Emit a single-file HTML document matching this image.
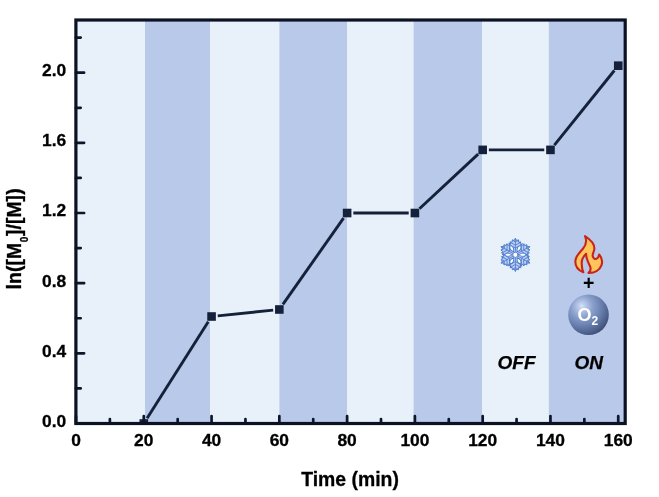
<!DOCTYPE html>
<html><head><meta charset="utf-8"><title>Kinetics plot</title>
<style>
html,body{margin:0;padding:0;background:#fff;}
body{width:659px;height:497px;overflow:hidden;font-family:"Liberation Sans",sans-serif;}
svg{display:block;filter:blur(0.4px);}
text{font-family:"Liberation Sans",sans-serif;font-weight:bold;fill:#000;}
.tk{font-size:17.4px;stroke:#000;stroke-width:0.3px;}
.ax{font-size:19.4px;stroke:#000;stroke-width:0.3px;}
.lab{font-size:19px;font-style:italic;stroke:#000;stroke-width:0.25px;}
</style></head><body>
<svg width="659" height="497" viewBox="0 0 659 497">
<defs>
<radialGradient id="sph" cx="0.36" cy="0.32" r="0.75" fx="0.33" fy="0.28">
<stop offset="0" stop-color="#D6E2F9"/>
<stop offset="0.14" stop-color="#B4C5E8"/>
<stop offset="0.36" stop-color="#8A9FCB"/>
<stop offset="0.62" stop-color="#6A81B0"/>
<stop offset="0.85" stop-color="#4E618C"/>
<stop offset="1" stop-color="#39486C"/>
</radialGradient>
<clipPath id="plot"><rect x="75.9" y="20" width="549.3" height="403.5"/></clipPath>
</defs>
<rect width="659" height="497" fill="#fff"/>

<rect x="77" y="20" width="68" height="403.5" fill="#E8F1FA"/>
<rect x="145" y="20" width="65.2" height="403.5" fill="#B9C9E9"/>
<rect x="210.2" y="20" width="69.1" height="403.5" fill="#E8F1FA"/>
<rect x="279.3" y="20" width="67.7" height="403.5" fill="#B9C9E9"/>
<rect x="347" y="20" width="66.5" height="403.5" fill="#E8F1FA"/>
<rect x="413.5" y="20" width="68.5" height="403.5" fill="#B9C9E9"/>
<rect x="482" y="20" width="66.7" height="403.5" fill="#E8F1FA"/>
<rect x="548.7" y="20" width="76.3" height="403.5" fill="#B9C9E9"/>
<g clip-path="url(#plot)">
<line x1="147.10" y1="418.26" x2="208.24" y2="321.74" stroke="#15213B" stroke-width="2.9"/>
<line x1="217.73" y1="315.87" x2="273.17" y2="310.13" stroke="#15213B" stroke-width="2.9"/>
<line x1="282.90" y1="304.42" x2="343.56" y2="218.09" stroke="#15213B" stroke-width="2.9"/>
<line x1="353.32" y1="213.02" x2="408.70" y2="213.02" stroke="#15213B" stroke-width="2.9"/>
<line x1="419.44" y1="208.79" x2="478.14" y2="154.10" stroke="#15213B" stroke-width="2.9"/>
<line x1="488.88" y1="149.88" x2="544.26" y2="149.88" stroke="#15213B" stroke-width="2.9"/>
<line x1="554.35" y1="145.05" x2="614.35" y2="70.51" stroke="#15213B" stroke-width="2.9"/>
<rect x="139.48" y="419.20" width="8.6" height="8.6" fill="#15213B"/>
<rect x="207.26" y="312.21" width="8.6" height="8.6" fill="#15213B"/>
<rect x="275.04" y="305.19" width="8.6" height="8.6" fill="#15213B"/>
<rect x="342.82" y="208.72" width="8.6" height="8.6" fill="#15213B"/>
<rect x="410.60" y="208.72" width="8.6" height="8.6" fill="#15213B"/>
<rect x="478.38" y="145.58" width="8.6" height="8.6" fill="#15213B"/>
<rect x="546.16" y="145.58" width="8.6" height="8.6" fill="#15213B"/>
<rect x="613.94" y="61.38" width="8.6" height="8.6" fill="#15213B"/>
</g>
<path d="M76.00 423.50V416.00M109.89 423.50V419.00M143.78 423.50V416.00M177.67 423.50V419.00M211.56 423.50V416.00M245.45 423.50V419.00M279.34 423.50V416.00M313.23 423.50V419.00M347.12 423.50V416.00M381.01 423.50V419.00M414.90 423.50V416.00M448.79 423.50V419.00M482.68 423.50V416.00M516.57 423.50V419.00M550.46 423.50V416.00M584.35 423.50V419.00M618.24 423.50V416.00M75.90 423.50H84.10M75.90 388.42H80.70M75.90 353.34H84.10M75.90 318.26H80.70M75.90 283.18H84.10M75.90 248.10H80.70M75.90 213.02H84.10M75.90 177.94H80.70M75.90 142.86H84.10M75.90 107.78H80.70M75.90 72.70H84.10M75.90 37.62H80.70" stroke="#0E162B" stroke-width="2.7" fill="none" stroke-linecap="round"/>
<rect x="75.9" y="20" width="549.3" height="403.5" fill="none" stroke="#0B1224" stroke-width="3.2"/>
<text class="tk" x="76.00" y="446" text-anchor="middle">0</text>
<text class="tk" x="143.78" y="446" text-anchor="middle">20</text>
<text class="tk" x="211.56" y="446" text-anchor="middle">40</text>
<text class="tk" x="279.34" y="446" text-anchor="middle">60</text>
<text class="tk" x="347.12" y="446" text-anchor="middle">80</text>
<text class="tk" x="414.90" y="446" text-anchor="middle">100</text>
<text class="tk" x="482.68" y="446" text-anchor="middle">120</text>
<text class="tk" x="550.46" y="446" text-anchor="middle">140</text>
<text class="tk" x="618.24" y="446" text-anchor="middle">160</text>
<text class="tk" x="66.2" y="426.90" text-anchor="end">0.0</text>
<text class="tk" x="66.2" y="356.74" text-anchor="end">0.4</text>
<text class="tk" x="66.2" y="286.58" text-anchor="end">0.8</text>
<text class="tk" x="66.2" y="216.42" text-anchor="end">1.2</text>
<text class="tk" x="66.2" y="146.26" text-anchor="end">1.6</text>
<text class="tk" x="66.2" y="76.10" text-anchor="end">2.0</text>
<text class="ax" x="350" y="486.2" text-anchor="middle">Time (min)</text>
<text class="ax" transform="translate(21.3 238.9) rotate(-90)" text-anchor="middle" textLength="101">ln([M<tspan font-size="10" dy="7" dx="0.6">0</tspan><tspan dy="-7" dx="0.6">]/[M])</tspan></text>
<text class="lab" x="516.5" y="368.7" text-anchor="middle">OFF</text>
<text class="lab" x="588.8" y="368.7" text-anchor="middle">ON</text>
<text x="588.6" y="290.2" text-anchor="middle" style="font-size:19.5px">+</text>
<circle cx="588.5" cy="314.8" r="20.3" fill="url(#sph)"/>
<text x="587.8" y="320.8" text-anchor="middle" style="font-size:18px;fill:#fff">O<tspan font-size="12" dy="4.2">2</tspan></text>
<g transform="translate(515.4 254.8)" stroke="#4E7ACB" fill="none" stroke-linecap="round" stroke-linejoin="round"><polygon points="-6.30,-11.60 -6.20,-10.00 -4.60,-10.90 -5.40,-12.90 -3.30,-12.60 -3.10,-14.90 -1.10,-14.30 0.00,-16.60 1.10,-14.30 3.10,-14.90 3.30,-12.60 5.40,-12.90 4.60,-10.90 6.20,-10.00 6.90,-11.26 5.56,-10.37 7.14,-9.43 8.47,-11.13 9.26,-9.16 11.35,-10.13 11.83,-8.10 14.38,-8.30 12.93,-6.20 14.45,-4.77 12.56,-3.44 13.87,-1.77 11.74,-1.47 11.76,0.37 13.20,0.34 11.76,-0.37 11.74,1.47 13.87,1.77 12.56,3.44 14.45,4.77 12.93,6.20 14.38,8.30 11.83,8.10 11.35,10.13 9.26,9.16 8.47,11.13 7.14,9.43 5.56,10.37 6.30,11.60 6.20,10.00 4.60,10.90 5.40,12.90 3.30,12.60 3.10,14.90 1.10,14.30 0.00,16.60 -1.10,14.30 -3.10,14.90 -3.30,12.60 -5.40,12.90 -4.60,10.90 -6.20,10.00 -6.90,11.26 -5.56,10.37 -7.14,9.43 -8.47,11.13 -9.26,9.16 -11.35,10.13 -11.83,8.10 -14.38,8.30 -12.93,6.20 -14.45,4.77 -12.56,3.44 -13.87,1.77 -11.74,1.47 -11.76,-0.37 -13.20,-0.34 -11.76,0.37 -11.74,-1.47 -13.87,-1.77 -12.56,-3.44 -14.45,-4.77 -12.93,-6.20 -14.38,-8.30 -11.83,-8.10 -11.35,-10.13 -9.26,-9.16 -8.47,-11.13 -7.14,-9.43 -5.56,-10.37" fill="#A9C2EF" fill-opacity="0.7" stroke-width="1"/><g transform="rotate(0)"><path d="M0 -2.8V-16.2M0 -6.8L-5.6 -10M0 -6.8L5.6 -10M0 -9.6L-4.9 -12.4M0 -9.6L4.9 -12.4M0 -12.8L-2.6 -14.4M0 -12.8L2.6 -14.4" stroke-width="0.95" stroke="#5A84D2"/></g><g transform="rotate(60)"><path d="M0 -2.8V-16.2M0 -6.8L-5.6 -10M0 -6.8L5.6 -10M0 -9.6L-4.9 -12.4M0 -9.6L4.9 -12.4M0 -12.8L-2.6 -14.4M0 -12.8L2.6 -14.4" stroke-width="0.95" stroke="#5A84D2"/></g><g transform="rotate(120)"><path d="M0 -2.8V-16.2M0 -6.8L-5.6 -10M0 -6.8L5.6 -10M0 -9.6L-4.9 -12.4M0 -9.6L4.9 -12.4M0 -12.8L-2.6 -14.4M0 -12.8L2.6 -14.4" stroke-width="0.95" stroke="#5A84D2"/></g><g transform="rotate(180)"><path d="M0 -2.8V-16.2M0 -6.8L-5.6 -10M0 -6.8L5.6 -10M0 -9.6L-4.9 -12.4M0 -9.6L4.9 -12.4M0 -12.8L-2.6 -14.4M0 -12.8L2.6 -14.4" stroke-width="0.95" stroke="#5A84D2"/></g><g transform="rotate(240)"><path d="M0 -2.8V-16.2M0 -6.8L-5.6 -10M0 -6.8L5.6 -10M0 -9.6L-4.9 -12.4M0 -9.6L4.9 -12.4M0 -12.8L-2.6 -14.4M0 -12.8L2.6 -14.4" stroke-width="0.95" stroke="#5A84D2"/></g><g transform="rotate(300)"><path d="M0 -2.8V-16.2M0 -6.8L-5.6 -10M0 -6.8L5.6 -10M0 -9.6L-4.9 -12.4M0 -9.6L4.9 -12.4M0 -12.8L-2.6 -14.4M0 -12.8L2.6 -14.4" stroke-width="0.95" stroke="#5A84D2"/></g><g transform="rotate(30)"><path d="M0 -3.4C-1.7 -5.6 -2.5 -8.6 0 -10.6C2.5 -8.6 1.7 -5.6 0 -3.4Z" fill="#FAFCFF" stroke-width="1"/></g><g transform="rotate(90)"><path d="M0 -3.4C-1.7 -5.6 -2.5 -8.6 0 -10.6C2.5 -8.6 1.7 -5.6 0 -3.4Z" fill="#FAFCFF" stroke-width="1"/></g><g transform="rotate(150)"><path d="M0 -3.4C-1.7 -5.6 -2.5 -8.6 0 -10.6C2.5 -8.6 1.7 -5.6 0 -3.4Z" fill="#FAFCFF" stroke-width="1"/></g><g transform="rotate(210)"><path d="M0 -3.4C-1.7 -5.6 -2.5 -8.6 0 -10.6C2.5 -8.6 1.7 -5.6 0 -3.4Z" fill="#FAFCFF" stroke-width="1"/></g><g transform="rotate(270)"><path d="M0 -3.4C-1.7 -5.6 -2.5 -8.6 0 -10.6C2.5 -8.6 1.7 -5.6 0 -3.4Z" fill="#FAFCFF" stroke-width="1"/></g><g transform="rotate(330)"><path d="M0 -3.4C-1.7 -5.6 -2.5 -8.6 0 -10.6C2.5 -8.6 1.7 -5.6 0 -3.4Z" fill="#FAFCFF" stroke-width="1"/></g><circle r="2.6" fill="#fff" stroke-width="0.9"/></g>
<g transform="translate(574.5 235.5)"><path d="M10.5 0.6C15 3.5 20 8 19.9 13C19.8 16 17.6 18.5 18.2 20.8C18.8 23 20.6 24 22 23.2C23.6 22.4 24.4 20.8 24.6 19C27.4 22 28.2 26 27 29.6C25.4 34.2 20.6 37.6 14 37.4C16.2 35.6 16.6 32.8 15.2 30C13.8 27.2 11.6 23 11.6 18.2C8.6 21 7 25 7.2 28.6C7.4 32 8 35 8.8 36.8C4.4 35 0.8 31 0.8 26C0.8 20.6 5 17.2 8.6 13C11.6 9.4 12.4 5 10.5 0.6Z" fill="#FFC55C" stroke="#C9241A" stroke-width="2.1" stroke-linejoin="round"/></g>
</svg></body></html>
